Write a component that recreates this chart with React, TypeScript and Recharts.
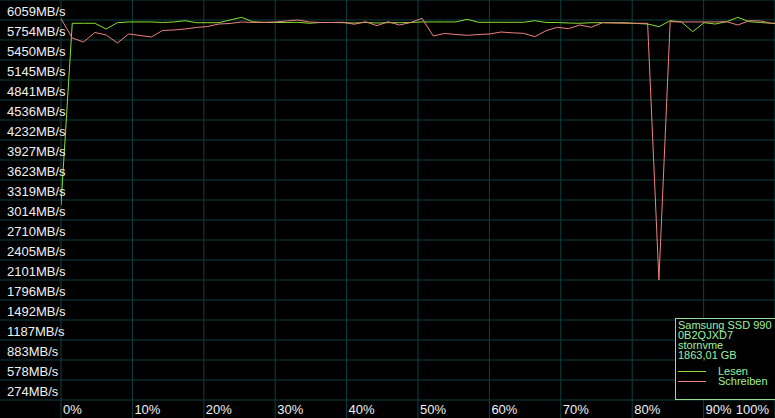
import { LineChart, Line, XAxis, YAxis, CartesianGrid } from 'recharts';

// y labels, bottom to top, one per 20px band
const yTickLabels = [
  '274MB/s', '578MB/s', '883MB/s', '1187MB/s', '1492MB/s', '1796MB/s', '2101MB/s',
  '2405MB/s', '2710MB/s', '3014MB/s', '3319MB/s', '3623MB/s', '3927MB/s', '4232MB/s',
  '4536MB/s', '4841MB/s', '5145MB/s', '5450MB/s', '5754MB/s', '6059MB/s',
];
const xTickLabels = ['0%', '10%', '20%', '30%', '40%', '50%', '60%', '70%', '80%', '90%', '100%'];

// MB/s, sampled evenly across the drive
const lesen = [
  2969, 5735, 5735, 5735, 5648, 5744, 5755, 5755, 5755, 5747, 5755, 5774, 5744, 5744, 5744, 5785,
  5826, 5759, 5747, 5747, 5747, 5750, 5735, 5747, 5747, 5744, 5739, 5747, 5739, 5744, 5744, 5747,
  5755, 5755, 5755, 5755, 5796, 5750, 5750, 5750, 5750, 5750, 5774, 5747, 5747, 5739, 5735, 5744,
  5744, 5744, 5744, 5732, 5724, 5683, 5774, 5755, 5607, 5744, 5724, 5759, 5826, 5759, 5747, 5735,
  5732,
];
const schreiben = [
  5805, 5511, 5450, 5595, 5557, 5435, 5572, 5549, 5526, 5625, 5633, 5648, 5671, 5686, 5724, 5732,
  5755, 5747, 5750, 5755, 5770, 5785, 5755, 5747, 5747, 5750, 5720, 5759, 5698, 5759, 5709, 5747,
  5811, 5541, 5580, 5564, 5552, 5564, 5572, 5602, 5590, 5582, 5531, 5622, 5674, 5653, 5709, 5674,
  5744, 5739, 5735, 5735, 5735, 1827, 5759, 5755, 5755, 5755, 5755, 5759, 5709, 5774, 5770, 5735,
  5732,
];
const driveInfo = ['Samsung SSD 990 PRO 2TB', '0B2QJXD7', 'stornvme', '1863,01 GB'];

const X_STEP = 1.58; // percent per sample
const Y_STEP = 304.47;
const GRID = '#0e4040';
const GREEN = '#88e030';
const RED = '#f08080';
const FONT = '"Liberation Sans", Arial, sans-serif';

const data = lesen.map((v, i) => ({ pos: i * X_STEP, lesen: v, schreiben: schreiben[i] }));
const yTicks = [0, ...yTickLabels.map((_, i) => (i + 1) * Y_STEP)];
const xTicks = xTickLabels.map((_, i) => i * 10);

function YTick({ y, payload }: any) {
  const k = Math.round(payload.value / Y_STEP);
  if (k === 0) return null;
  return (
    <text x={7} y={y + 16} fill="#f0f0f0" fontSize={13} fontFamily={FONT}>
      {yTickLabels[k - 1]}
    </text>
  );
}

function XTick({ x, payload }: any) {
  const idx = Math.round(payload.value / 10);
  const last = idx === xTickLabels.length - 1;
  return (
    <text
      x={last ? 769 : x + 2}
      y={414}
      textAnchor={last ? 'end' : 'start'}
      fill="#f0f0f0"
      fontSize={13}
      fontFamily={FONT}
    >
      {xTickLabels[idx]}
    </text>
  );
}

export default function App() {
  return (
    <div style={{ position: 'absolute', left: 0, top: 0, width: 775, height: 418, background: '#000', overflow: 'hidden' }}>
      <LineChart width={775} height={418} data={data} margin={{ top: 0, right: 0, bottom: 0, left: 0 }}>
        <CartesianGrid stroke={GRID} strokeWidth={1} />
        <XAxis
          dataKey="pos"
          type="number"
          domain={[0, 100]}
          ticks={xTicks}
          allowDataOverflow
          height={18}
          axisLine={false}
          tickLine={{ stroke: GRID }}
          tickSize={18}
          tick={<XTick />}
          interval={0}
        />
        <YAxis
          type="number"
          domain={[0, 20 * Y_STEP]}
          ticks={yTicks}
          width={61}
          axisLine={false}
          tickLine={{ stroke: GRID }}
          tickSize={61}
          tick={<YTick />}
          interval={0}
        />
        <Line dataKey="lesen" stroke={GREEN} strokeWidth={1} dot={false} isAnimationActive={false} type="linear" />
        <Line dataKey="schreiben" stroke={RED} strokeWidth={1} dot={false} isAnimationActive={false} type="linear" />
      </LineChart>
      <div
        style={{
          position: 'absolute', left: 675, top: 318, width: 110, height: 82, boxSizing: 'border-box',
          border: '1px solid #8fe08f', background: '#000', color: '#9ef09e', fontFamily: FONT,
          fontSize: 11, lineHeight: '10px', padding: '1px 0 0 2px', whiteSpace: 'nowrap',
        }}
      >
        {driveInfo.map((t) => (
          <div key={t}>{t}</div>
        ))}
        <div style={{ height: 6 }} />
        {[
          { name: 'Lesen', color: GREEN },
          { name: 'Schreiben', color: RED },
        ].map((s) => (
          <div key={s.name} style={{ display: 'flex', alignItems: 'center', height: 10 }}>
            <span style={{ display: 'inline-block', width: 28, height: 1, background: s.color, marginRight: 12 }} />
            <span>{s.name}</span>
          </div>
        ))}
      </div>
    </div>
  );
}
